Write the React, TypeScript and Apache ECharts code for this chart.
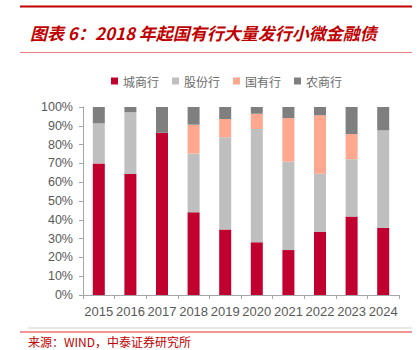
import React, { useEffect, useRef } from "react";
import * as echarts from "echarts";

const years = ["2015", "2016", "2017", "2018", "2019", "2020", "2021", "2022", "2023", "2024"];
const seriesNames = ["城商行", "股份行", "国有行", "农商行"];
const cityBank = [70, 64.4, 86.3, 44, 34.9, 28, 23.9, 33.5, 41.7, 35.6];
const jointStock = [21.3, 32.8, 0, 31.2, 49, 60.3, 47, 31, 30.5, 52];
const stateOwned = [0, 0, 0, 15.4, 9.7, 8.1, 23.2, 31.1, 13.4, 0];
const rural = [8.7, 2.8, 13.7, 9.4, 6.4, 3.6, 5.9, 4.4, 14.4, 12.4];
const colors = ["#C0002F", "#BFBFBF", "#FFA78F", "#7F7F7F"];
const titleText = "图表 6：2018 年起国有行大量发行小微金融债";
const sourceText = "来源：WIND，中泰证券研究所";

export default function App() {
  const ref = useRef<HTMLDivElement>(null);
  useEffect(() => {
    if (!ref.current) return;
    const chart = echarts.init(ref.current, null, { renderer: "svg" });
    const data = [cityBank, jointStock, stateOwned, rural];
    chart.setOption({
      animation: false,
      backgroundColor: "#ffffff",
      grid: { left: 83, right: 19, top: 107, bottom: 55 },
      legend: {
        left: 106,
        top: 70,
        icon: "rect",
        itemWidth: 7,
        itemHeight: 7,
        itemGap: 13,
        textStyle: { fontSize: 12, color: "#6B6B6B", fontFamily: "Noto Sans CJK SC" },
        data: seriesNames,
      },
      xAxis: {
        type: "category",
        data: years,
        axisLine: { lineStyle: { color: "#A6A6A6" } },
        axisTick: { show: true, length: 4, lineStyle: { color: "#A6A6A6" } },
        axisLabel: {
          interval: 0,
          fontSize: 13,
          color: "#595959",
          fontFamily: "Liberation Sans",
          margin: 10,
        },
      },
      yAxis: {
        type: "value",
        min: 0,
        max: 100,
        interval: 10,
        axisLine: { show: true, lineStyle: { color: "#A6A6A6" } },
        axisTick: { show: true, length: 4, lineStyle: { color: "#A6A6A6" } },
        splitLine: { show: false },
        axisLabel: {
          formatter: "{value}%",
          fontSize: 12.5,
          color: "#595959",
          fontFamily: "Liberation Sans",
          margin: 10,
        },
      },
      series: seriesNames.map((name, i) => ({
        name,
        type: "bar",
        stack: "total",
        barWidth: 12,
        data: data[i],
        itemStyle: { color: colors[i] },
      })),
      graphic: [
        {
          type: "rect",
          shape: { x: 20, y: 5.5, width: 392, height: 2 },
          style: { fill: "#C00000" },
        },
        {
          type: "text",
          x: 30,
          y: 32,
          style: {
            text: titleText,
            fill: "#C00000",
            font: "italic bold 17px 'Noto Sans CJK SC'",
            textVerticalAlign: "middle",
          },
        },
        {
          type: "rect",
          shape: { x: 20, y: 52, width: 392, height: 1 },
          style: { fill: "#E88080" },
        },
        {
          type: "rect",
          shape: { x: 28, y: 327.5, width: 384, height: 1 },
          style: { fill: "#D0D0D0" },
        },
        {
          type: "rect",
          shape: { x: 20, y: 331.5, width: 392, height: 1 },
          style: { fill: "#E03030" },
        },
        {
          type: "text",
          x: 28,
          y: 341,
          style: {
            text: sourceText,
            fill: "#C00000",
            font: "12px 'Noto Sans CJK SC'",
            textVerticalAlign: "middle",
          },
        },
      ],
    });
    return () => chart.dispose();
  }, []);
  return <div ref={ref} style={{ width: 418, height: 350, position: "absolute", left: 0, top: 0 }} />;
}
